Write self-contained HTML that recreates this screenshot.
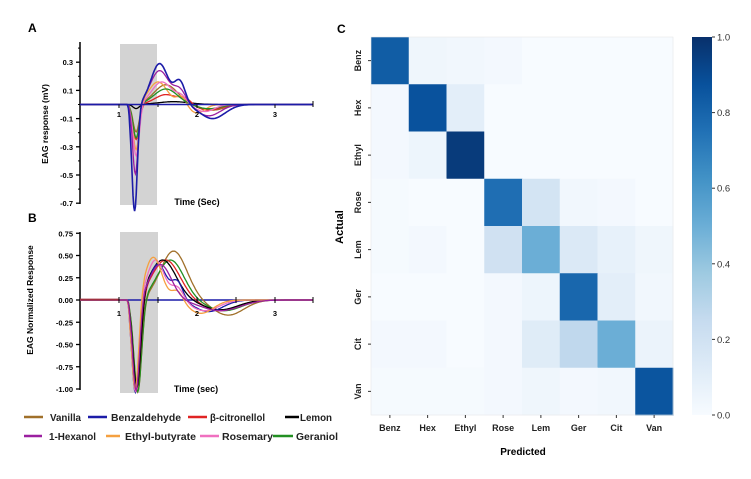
<!DOCTYPE html>
<html><head><meta charset="utf-8"><style>
body{margin:0;background:#fff;width:751px;height:474px;overflow:hidden}
text{font-family:"Liberation Sans",Arial,sans-serif}
</style></head><body>
<svg id="s" width="751" height="474" xmlns="http://www.w3.org/2000/svg">
<text x="28" y="32" font-size="12" font-weight="bold">A</text>
<text x="28" y="222" font-size="12" font-weight="bold">B</text>
<text x="337" y="33" font-size="12" font-weight="bold">C</text>
<rect x="120" y="44" width="37" height="161" fill="#d3d3d3"/>
<rect x="120" y="232" width="38" height="161" fill="#d3d3d3"/>
<g id="ga"></g><g id="gb"></g><g id="hm"></g>
<text x="197" y="205" font-size="9" font-weight="bold" text-anchor="middle">Time (Sec)</text>
<text x="196" y="392" font-size="9" font-weight="bold" text-anchor="middle">Time (sec)</text>
<text transform="translate(48,124) rotate(-90)" font-size="8.5" font-weight="bold" text-anchor="middle">EAG response (mV)</text>
<text transform="translate(33,300) rotate(-90)" font-size="8.5" font-weight="bold" text-anchor="middle">EAG Normalized Response</text>
<text transform="translate(343,227) rotate(-90)" font-size="11" font-weight="bold" text-anchor="middle">Actual</text>
<text x="523" y="455" font-size="10" font-weight="bold" text-anchor="middle">Predicted</text>
</svg>
<script>
const NS="http://www.w3.org/2000/svg";
function el(p,t,a,txt){const e=document.createElementNS(NS,t);for(const k in a)e.setAttribute(k,a[k]);if(txt!==undefined)e.textContent=txt;p.appendChild(e);return e;}
const S=document.getElementById('s');
const tx=t=>119+(t-1)*78;
const ga=document.getElementById('ga');
const ya=v=>104.5-v*141;
el(ga,'line',{x1:80,y1:42,x2:80,y2:204,stroke:'#000','stroke-width':1.5});
[0.3,0.1,-0.1,-0.3,-0.5,-0.7].forEach(v=>{el(ga,'line',{x1:76,x2:80,y1:ya(v),y2:ya(v),stroke:'#000','stroke-width':1.3});el(ga,'text',{x:73,y:ya(v)+3,'font-size':7.5,'font-weight':'bold','text-anchor':'end'},v.toFixed(1));});
[0.4,0.2,0,-0.2,-0.4,-0.6].forEach(v=>el(ga,'line',{x1:78,x2:80,y1:ya(v),y2:ya(v),stroke:'#000'}));
const gb=document.getElementById('gb');
const yb=v=>300-v*89;
el(gb,'line',{x1:80,y1:232,x2:80,y2:390,stroke:'#000','stroke-width':1.5});
[0.75,0.5,0.25,0,-0.25,-0.5,-0.75,-1].forEach(v=>{el(gb,'line',{x1:76,x2:80,y1:yb(v),y2:yb(v),stroke:'#000','stroke-width':1.3});el(gb,'text',{x:73,y:yb(v)+3,'font-size':7.5,'font-weight':'bold','text-anchor':'end'},v.toFixed(2));});
const cols={van:'#a0702a',benz:'#1c1ca8',cit:'#e02424',lem:'#000',hex:'#9b1fa0',eth:'#f5a040',ros:'#f070c0',ger:'#229022'};
function gs(t,G){let s=0;for(const g of G)s+=g[0]*Math.exp(-((t-g[1])**2)/(2*g[2]*g[2]));return s;}
function path(g,G,yf,c,w){let d='';for(let t=0.5;t<=3.49;t+=0.01){const v=t<1.1?0:gs(t,G)*Math.min(1,(t-1.1)/0.04);d+=(d?'L':'M')+tx(t).toFixed(1)+','+yf(v).toFixed(1);}el(g,'path',{d:d,fill:'none',stroke:c,'stroke-width':w||1.3});}
const A={
van:[[-0.2,1.22,0.04],[0.14,1.6,0.15],[-0.04,2.2,0.15]],
lem:[[-0.03,1.22,0.04],[0.02,1.7,0.2]],
cit:[[-0.25,1.22,0.04],[0.07,1.6,0.14],[0.04,1.85,0.08],[-0.04,2.15,0.15]],
eth:[[-0.33,1.22,0.04],[0.16,1.5,0.12],[0.06,1.8,0.06],[-0.06,2.0,0.1]],
ger:[[-0.24,1.22,0.04],[0.11,1.6,0.15],[-0.03,2.15,0.15]],
ros:[[-0.37,1.22,0.04],[0.16,1.55,0.13],[0.05,1.8,0.07],[-0.05,2.1,0.12]],
hex:[[-0.5,1.21,0.035],[0.24,1.52,0.12],[0.1,1.78,0.08],[-0.08,2.15,0.15]],
benz:[[-0.76,1.2,0.035],[0.29,1.52,0.11],[0.16,1.78,0.07],[-0.1,2.2,0.16]]};
for(const k in A)path(ga,A[k],ya,cols[k],k=='benz'?1.6:1.3);
el(ga,'line',{x1:80,x2:313,y1:104.5,y2:104.5,stroke:'#1c1ca8','stroke-width':1.5});
[1,2,3].forEach(n=>{el(ga,'line',{x1:tx(n),x2:tx(n),y1:104.5,y2:108,stroke:'#000'});el(ga,'text',{x:tx(n),y:117,'font-size':7.5,'font-weight':'bold','text-anchor':'middle'},n);});
el(ga,'line',{x1:tx(1.5),x2:tx(1.5),y1:104.5,y2:107,stroke:'#000'});el(ga,'line',{x1:313,x2:313,y1:101,y2:107,stroke:'#000'});
el(gb,'line',{x1:80,x2:313,y1:300,y2:300,stroke:'#1c1ca8','stroke-width':1.5});
const B={
van:[[-1.05,1.24,0.05],[0.55,1.7,0.17],[-0.17,2.4,0.2]],
ger:[[-1.05,1.24,0.05],[0.45,1.66,0.17],[-0.12,2.35,0.22]],
cit:[[-1.05,1.23,0.05],[0.45,1.6,0.18],[-0.12,2.3,0.22]],
lem:[[-1.05,1.23,0.05],[0.45,1.56,0.17],[-0.11,2.3,0.22]],
benz:[[-1.05,1.21,0.045],[0.4,1.5,0.11],[0.2,1.75,0.07],[-0.13,2.15,0.18]],
ros:[[-1.05,1.21,0.045],[0.45,1.47,0.11],[0.15,1.75,0.08],[-0.12,2.1,0.18]],
eth:[[-1.05,1.21,0.045],[0.48,1.44,0.11],[0.12,1.75,0.07],[-0.15,2.05,0.16]],
hex:[[-1.05,1.22,0.045],[0.4,1.53,0.14],[-0.12,2.3,0.25]]};
for(const k in B)path(gb,B[k],yb,cols[k],1.3);
el(gb,'line',{x1:80,x2:119,y1:299.5,y2:299.5,stroke:'#a03040','stroke-width':1.8});
[1,2,3].forEach(n=>{el(gb,'line',{x1:tx(n),x2:tx(n),y1:297,y2:303,stroke:'#000'});el(gb,'text',{x:tx(n),y:316,'font-size':7.5,'font-weight':'bold','text-anchor':'middle'},n);});
el(gb,'line',{x1:tx(1.5),x2:tx(1.5),y1:297,y2:303,stroke:'#000'});el(gb,'line',{x1:tx(2.5),x2:tx(2.5),y1:297,y2:303,stroke:'#000'});el(gb,'line',{x1:313,x2:313,y1:297,y2:303,stroke:'#000'});
// legend: [lineStart,lineEnd,textX,textLen,yCenter,key,label]
const L=[[24,43,50,31,417,'van','Vanilla'],[88,107,111,70,417,'benz','Benzaldehyde'],[188,207,210,55,417,'cit','β-citronellol'],[285,299,300,32,417,'lem','Lemon'],[24,42,49,47,436,'hex','1-Hexanol'],[106,120,125,71,436,'eth','Ethyl-butyrate'],[200,219,222,51,436,'ros','Rosemary'],[273,293,296,42,436,'ger','Geraniol']];
L.forEach(l=>{el(S,'line',{x1:l[0],x2:l[1],y1:l[4],y2:l[4],stroke:cols[l[5]],'stroke-width':2.5});el(S,'text',{x:l[2],y:l[4]+4,'font-size':10,'font-weight':'bold',fill:'#222',textLength:l[3],lengthAdjust:'spacingAndGlyphs'},l[6]);});
const hm=document.getElementById('hm');
const stops=['#f7fbff','#deebf7','#c6dbef','#9ecae1','#6baed6','#4292c6','#2171b5','#08519c','#08306b'];
function cm(v){v=Math.max(0,Math.min(1,v))*8;const i=Math.min(7,Math.floor(v)),f=v-i;const a=stops[i],b=stops[i+1];const c=[1,3,5].map(j=>Math.round(parseInt(a.substr(j,2),16)*(1-f)+parseInt(b.substr(j,2),16)*f));return 'rgb('+c.join(',')+')';}
const M=[[.83,.04,.03,.02,0,0,0,0],[.02,.87,.1,0,0,0,0,0],[.02,.05,.96,0,0,0,0,0],[.01,0,0,.76,.18,.03,.02,0],[.01,.02,0,.2,.5,.14,.08,.04],[0,0,0,.02,.05,.79,.1,.03],[.02,.02,0,.02,.12,.27,.5,.06],[.01,.01,.01,.02,.04,.02,.03,.86]];
const names=['Benz','Hex','Ethyl','Rose','Lem','Ger','Cit','Van'];
const x0=371,y0=37,cw=37.75,ch=47.25;
for(let r=0;r<8;r++)for(let c=0;c<8;c++)el(hm,'rect',{x:x0+c*cw,y:y0+r*ch,width:cw+0.5,height:ch+0.5,fill:cm(M[r][c])});
el(hm,'rect',{x:x0,y:y0,width:cw*8,height:ch*8,fill:'none',stroke:'#e8e8e8','stroke-width':0.6});
names.forEach((n,i)=>{const cx=x0+(i+.5)*cw,cy=y0+(i+.5)*ch;
el(hm,'line',{x1:cx,x2:cx,y1:415,y2:418,stroke:'#333'});el(hm,'text',{x:cx,y:431,'font-size':9,'font-weight':'bold','text-anchor':'middle',fill:'#222'},n);
el(hm,'line',{x1:368,x2:371,y1:cy,y2:cy,stroke:'#333'});el(hm,'text',{transform:`translate(361,${cy}) rotate(-90)`,'font-size':9,'font-weight':'bold','text-anchor':'middle',fill:'#222'},n);});
const defs=el(S,'defs',{});const lg=el(defs,'linearGradient',{id:'cb',x1:0,y1:1,x2:0,y2:0});
stops.forEach((c,i)=>el(lg,'stop',{offset:i/8,'stop-color':c}));
el(S,'rect',{x:692,y:37,width:20,height:378,fill:'url(#cb)'});
[0,.2,.4,.6,.8,1].forEach(v=>{const y=415-v*378;el(S,'line',{x1:712,x2:715,y1:y,y2:y,stroke:'#333'});el(S,'text',{x:717,y:y+3.5,'font-size':9.5,fill:'#333'},v.toFixed(1));});
</script>
</body></html>
